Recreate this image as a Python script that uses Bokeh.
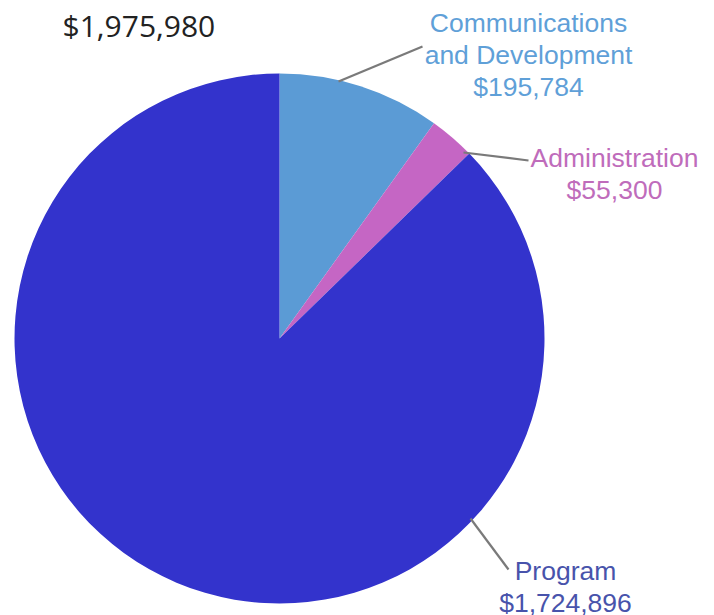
import math
from bokeh.plotting import figure
from bokeh.models import Range1d, ColumnDataSource
from bokeh.core.properties import value
from bokeh.embed import file_html
from bokeh.resources import INLINE

# ---- data ----
categories = ["Communications\nand Development", "Administration", "Program"]
amounts = [195784, 55300, 1724896]
slice_colors = ["#5b9bd5", "#c566c4", "#3333cc"]
label_colors = ["#5fa0d8", "#bf6cbb", "#4853ab"]
total_label = "$1,975,980"

W, H = 714, 615


def sx(x):
    return x


def sy(y):
    return H - y


p = figure(width=W, height=H, output_backend="svg", toolbar_location=None,
           x_range=Range1d(0, W), y_range=Range1d(0, H), min_border=0,
           outline_line_color=None, match_aspect=False)
p.xaxis.visible = False
p.yaxis.visible = False
p.grid.visible = False
p.background_fill_color = "white"
p.border_fill_color = "white"

# pie
cx, cy, R = 279, 338, 265
total = sum(amounts)
starts, ends = [], []
cum = 0.0
for a in amounts:
    starts.append(math.pi / 2 - 2 * math.pi * cum / total)
    cum += a
    ends.append(math.pi / 2 - 2 * math.pi * cum / total)

src = ColumnDataSource(dict(start=starts, end=ends, color=slice_colors))
p.wedge(x=sx(cx), y=sy(cy), radius=R, start_angle="start", end_angle="end",
        direction="clock", fill_color="color", line_color=None, source=src)

# leader lines (layout, screen coords)
leaders = [((338, 81), (422, 46)), ((463, 152), (528, 160)), ((470, 518), (508, 569))]
for (x0, y0), (x1, y1) in leaders:
    p.line([sx(x0), sx(x1)], [sy(y0), sy(y1)], line_color="#7a7a7a", line_width=2.2)

# labels
label_anchor = [(528, 22), (614, 157), (565, 570)]
line_gap = 32
for cat, amt, col, (ax, ay) in zip(categories, amounts, label_colors, label_anchor):
    lines = cat.split("\n") + ["${:,}".format(amt)]
    xs = [sx(ax)] * len(lines)
    ys = [sy(ay + i * line_gap) for i in range(len(lines))]
    p.text(x=xs, y=ys, text=lines, text_align="center", text_baseline="alphabetic",
           text_font=value("Liberation Sans"), text_font_size="26.5px", text_color=col)

# total
p.text(x=[sx(62)], y=[sy(25)], text=[total_label], text_align="left",
       text_baseline="alphabetic", text_font=value("Open Sans"),
       text_font_size="30px", text_color="#222222")

open("out.html", "w").write(file_html(p, INLINE))
